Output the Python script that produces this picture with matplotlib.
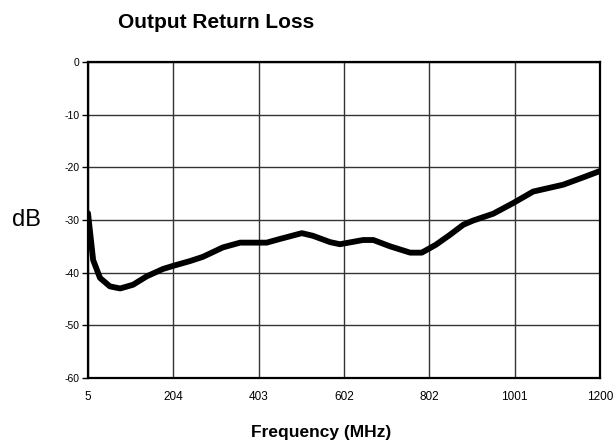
import matplotlib
matplotlib.use("Agg")
import matplotlib.pyplot as plt

freq = [5, 17, 33, 56, 80, 110, 142, 180, 204, 243, 273, 320, 360, 422, 453, 504, 530,
        570, 593, 647, 671, 710, 757, 784, 817, 850, 881, 904, 951, 997, 1044, 1114, 1161, 1200]
loss = [-28.7, -37.6, -41.0, -42.6, -43.0, -42.3, -40.7, -39.3, -38.7, -37.8, -37.0, -35.2, -34.3,
        -34.3, -33.6, -32.5, -33.0, -34.2, -34.6, -33.8, -33.8, -35.0, -36.2, -36.2, -34.7,
        -32.8, -30.9, -30.1, -28.8, -26.8, -24.6, -23.3, -21.9, -20.7]
xticks = [5, 204, 403, 602, 802, 1001, 1200]
yticks = [0, -10, -20, -30, -40, -50, -60]

plt.rcParams['font.family'] = ['Liberation Sans', 'DejaVu Sans']
plt.rcParams['axes.unicode_minus'] = False
fig = plt.figure(figsize=(6.13, 4.45), dpi=100)
ax = fig.add_axes([88/613, 1-378/445, 512/613, 316/445])
ax.plot(freq, loss, color='black', lw=4.2, solid_capstyle='round', solid_joinstyle='round')
ax.set_xlim(5, 1200)
ax.set_ylim(-60, 0)
ax.set_xticks(xticks)
ax.set_yticks(yticks)
ax.tick_params(axis='x', length=0, labelsize=8.5, pad=9)
ax.tick_params(axis='y', length=4, width=1, labelsize=7.5, pad=2, direction='out')
ax.grid(True, color='#333333', lw=1)
for s in ax.spines.values():
    s.set_linewidth(1.6)
    s.set_color('black')
fig.text(321/613, 1-436.5/445, 'Frequency (MHz)', fontsize=12.5, fontweight='bold', ha='center', va='baseline')
fig.text(118/613, 1-28.5/445, 'Output Return Loss', fontsize=15, fontweight='bold', ha='left', va='baseline')
fig.text(26/613, 1-226/445, 'dB', fontsize=17, ha='center', va='baseline')
fig.savefig('out.png', dpi=100)
